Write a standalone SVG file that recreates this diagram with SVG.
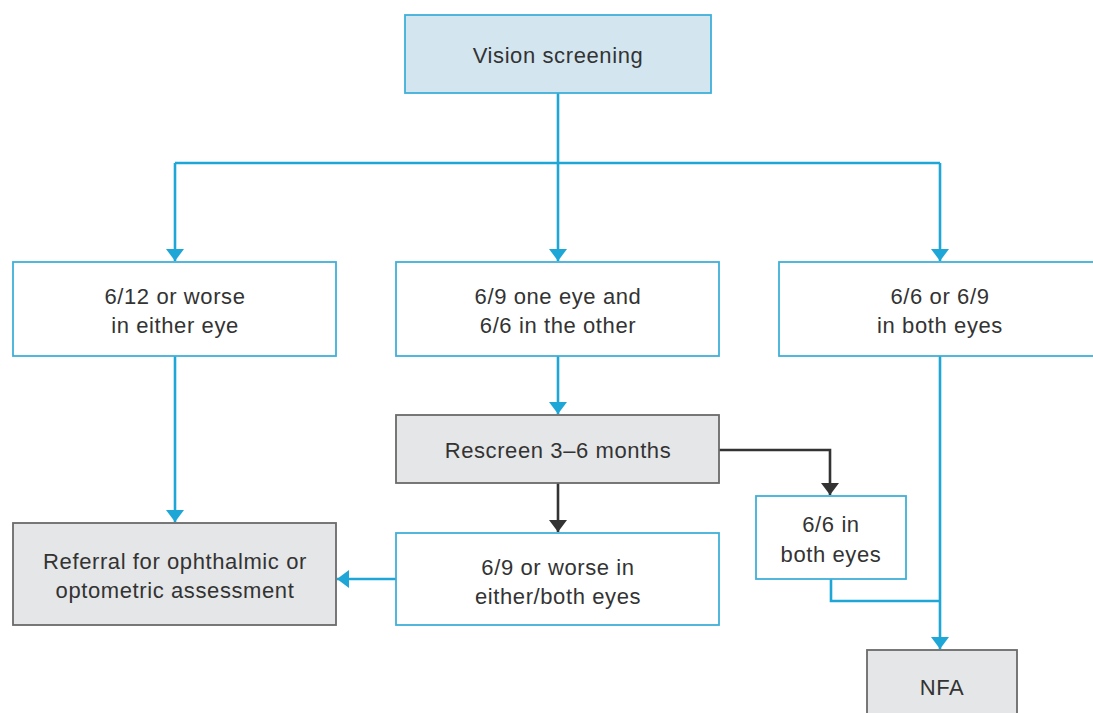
<svg xmlns="http://www.w3.org/2000/svg" width="1093" height="713" viewBox="0 0 1093 713">
<style>
.blue{fill:#fff;stroke:#3fb0d9;stroke-width:1.8}
.top{fill:#d3e6f0;stroke:#3fb0d9;stroke-width:1.8}
.grey{fill:#e5e6e8;stroke:#6a6a6a;stroke-width:1.8}
.t{font-family:"Liberation Sans",Arial,sans-serif;font-size:22px;letter-spacing:0.6px;fill:#333;text-anchor:middle}
.cb{fill:none;stroke:#1ea6d6;stroke-width:2.6}
.ck{fill:none;stroke:#333;stroke-width:2.6}
</style>
<defs>
<marker id="ab" markerWidth="12" markerHeight="18" refX="12" refY="9" orient="auto" markerUnits="userSpaceOnUse"><path d="M0,0 L12,9 L0,18 Z" fill="#1ea6d6"/></marker>
<marker id="ak" markerWidth="12" markerHeight="18" refX="12" refY="9" orient="auto" markerUnits="userSpaceOnUse"><path d="M0,0 L12,9 L0,18 Z" fill="#333"/></marker>
</defs>
<rect width="1093" height="713" fill="#fff"/>
<g id="connectors">
<path class="cb" d="M558,93 V163"/>
<path class="cb" d="M175,163 H940"/>
<path class="cb" d="M175,163 V261" marker-end="url(#ab)"/>
<path class="cb" d="M558,163 V261" marker-end="url(#ab)"/>
<path class="cb" d="M940,163 V261" marker-end="url(#ab)"/>
<path class="cb" d="M175,356 V522" marker-end="url(#ab)"/>
<path class="cb" d="M558,356 V414" marker-end="url(#ab)"/>
<path class="ck" d="M558,483 V532" marker-end="url(#ak)"/>
<path class="ck" d="M719,450 H830 V495" marker-end="url(#ak)"/>
<path class="cb" d="M396,579 H337" marker-end="url(#ab)"/>
<path class="cb" d="M940,356 V649" marker-end="url(#ab)"/>
<path class="cb" d="M831,579 V601 H940"/>
</g>
<g id="vision"><rect class="top" x="405" y="15" width="306" height="78"/><text class="t" x="558" y="63">Vision screening</text></g>
<g id="worse12"><rect class="blue" x="13" y="262" width="323" height="94"/><text class="t" x="175" y="304">6/12 or worse</text><text class="t" x="175" y="333">in either eye</text></g>
<g id="oneeye"><rect class="blue" x="396" y="262" width="323" height="94"/><text class="t" x="558" y="304">6/9 one eye and</text><text class="t" x="558" y="333">6/6 in the other</text></g>
<g id="botheyes"><rect class="blue" x="779" y="262" width="320" height="94"/><text class="t" x="940" y="304">6/6 or 6/9</text><text class="t" x="940" y="333">in both eyes</text></g>
<g id="rescreen"><rect class="grey" x="396" y="415" width="323" height="68"/><text class="t" x="558" y="458">Rescreen 3–6 months</text></g>
<g id="both66"><rect class="blue" x="756" y="496" width="150" height="83"/><text class="t" x="831" y="532">6/6 in</text><text class="t" x="831" y="562">both eyes</text></g>
<g id="worse9"><rect class="blue" x="396" y="533" width="323" height="92"/><text class="t" x="558" y="575">6/9 or worse in</text><text class="t" x="558" y="604">either/both eyes</text></g>
<g id="referral"><rect class="grey" x="13" y="523" width="323" height="102"/><text class="t" x="175" y="569">Referral for ophthalmic or</text><text class="t" x="175" y="598">optometric assessment</text></g>
<g id="nfa"><rect class="grey" x="867" y="650" width="150" height="70"/><text class="t" x="942" y="695">NFA</text></g>
</svg>
